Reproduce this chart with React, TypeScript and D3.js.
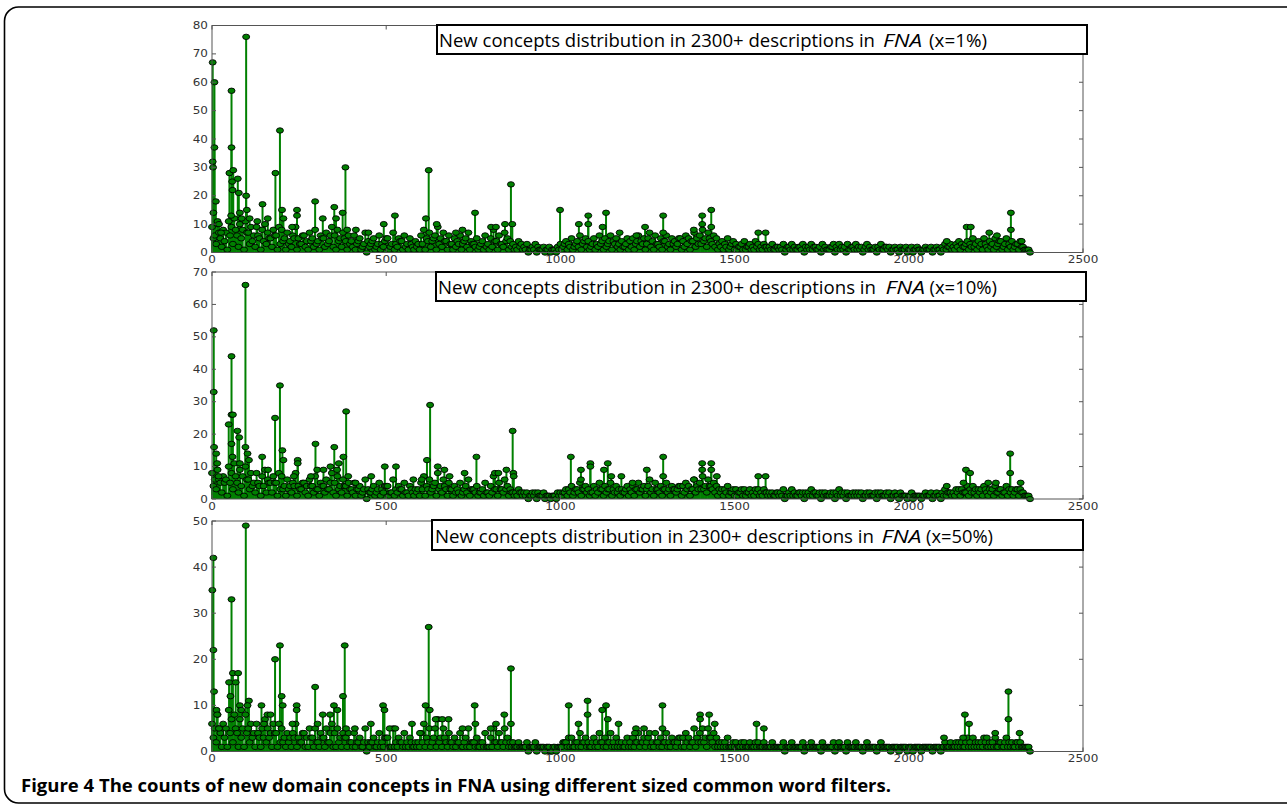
import * as d3 from "d3";

// the "b" arrays are the samples in between (offset 4)
const bgStep = 8;

const bg1 = [
  9, 6, 10, 5, 8, 7, 11, 9, 12, 6, 10, 8, 11, 7, 9, 6, 9, 5, 8, 10, 7, 5, 8, 6, 9,
  8, 5, 7, 4, 6, 9, 5, 3, 6, 4, 7, 5, 8, 4, 6, 5, 7, 4, 9, 6, 8, 5, 7, 4, 6,
  4, 6, 3, 5, 2, 7, 4, 3, 5, 2, 6, 3, 4, 5, 2, 7, 3, 5, 4, 6, 3, 5, 2, 4, 3,
  6, 8, 5, 7, 4, 6, 9, 5, 7, 4, 6, 3, 5, 4, 6, 3, 5, 7, 4, 3, 5, 2, 4, 6, 3,
  5, 8, 4, 6, 3, 7, 5, 4, 3, 2, 4, 3, 2, 3, 1, 2, 3, 2, 1, 2, 1, 2, 1, 1, 2,
  3, 2, 4, 3, 5, 2, 4, 6, 3, 5, 4, 2, 5, 3, 6, 4, 5, 3, 6, 4, 5, 3, 4, 2, 5,
  4, 5, 3, 6, 4, 5, 3, 7, 4, 6, 3, 5, 4, 6, 3, 5, 4, 3, 5, 4, 6, 5, 4, 7, 5,
  6, 8, 5, 7, 4, 6, 5, 3, 4, 3, 5, 2, 4, 3, 2, 3, 4, 2, 3, 2, 4, 3, 2, 3, 2,
  2, 3, 1, 2, 2, 3, 1, 2, 3, 2, 1, 2, 3, 2, 2, 3, 2, 1, 2, 3, 2, 1, 2, 3, 2,
  3, 2, 2, 3, 1, 2, 3, 2, 2, 1, 3, 2, 1, 2, 2, 3, 1, 2, 2, 1, 2, 1, 2, 1, 2,
  1, 2, 1, 2, 1, 1, 2, 1, 2, 1, 2, 1, 2, 3, 2, 3, 2, 3, 4, 3, 2, 4, 3, 5, 3,
  4, 3, 5, 2, 4, 3, 5, 3, 4, 2, 5, 3, 4, 2, 3, 4, 2, 1, 1,
];
const bg1b = [
  5, 3, 7, 2, 4, 1, 6, 3, 8, 2, 5, 1, 7, 3, 4, 2, 6, 1, 4, 3, 5, 2, 6, 1, 3,
  4, 1, 3, 2, 5, 1, 3, 6, 2, 1, 4, 2, 3, 1, 5, 2, 3, 6, 2, 1, 4, 2, 5, 1, 3,
  2, 1, 4, 1, 3, 0, 2, 4, 1, 3, 1, 2, 5, 1, 3, 1, 2, 4, 1, 2, 1, 3, 1, 2, 1,
  3, 1, 4, 2, 5, 1, 3, 2, 4, 1, 3, 1, 2, 3, 1, 4, 2, 1, 3, 2, 1, 3, 1, 2, 1,
  2, 4, 1, 3, 2, 4, 1, 2, 1, 1, 2, 1, 1, 0, 1, 1, 0, 1, 1, 0, 1, 0, 1, 0, 1,
  1, 3, 1, 2, 1, 3, 2, 1, 4, 2, 1, 3, 1, 2, 3, 1, 2, 4, 1, 3, 2, 1, 2, 3, 1,
  2, 1, 4, 2, 3, 1, 5, 2, 1, 3, 2, 1, 4, 2, 1, 3, 2, 5, 1, 2, 3, 1, 4, 2, 3,
  3, 4, 2, 5, 3, 2, 1, 2, 1, 2, 1, 3, 1, 1, 2, 1, 1, 2, 1, 1, 2, 1, 1, 2, 1,
  1, 1, 2, 1, 1, 0, 2, 1, 1, 1, 2, 1, 0, 1, 1, 1, 2, 1, 0, 1, 1, 1, 2, 0, 1,
  1, 1, 0, 1, 2, 1, 1, 1, 0, 2, 1, 1, 1, 0, 1, 1, 2, 1, 0, 1, 1, 0, 1, 1, 0,
  1, 0, 1, 1, 0, 1, 1, 1, 0, 1, 1, 0, 1, 1, 2, 1, 1, 2, 1, 2, 3, 1, 2, 2, 1,
  2, 1, 3, 1, 2, 1, 2, 4, 1, 3, 1, 2, 1, 3, 1, 2, 1, 1, 0,
];

const bg2 = [
  8, 6, 9, 5, 7, 6, 10, 8, 11, 5, 9, 7, 10, 6, 8, 5, 8, 4, 7, 9, 6, 5, 7, 5, 8,
  7, 4, 6, 4, 5, 8, 4, 3, 5, 4, 6, 4, 7, 3, 5, 4, 6, 3, 8, 5, 7, 4, 6, 4, 5,
  3, 5, 3, 4, 2, 6, 3, 2, 4, 2, 5, 3, 4, 4, 2, 6, 3, 4, 3, 5, 2, 4, 2, 3, 3,
  5, 7, 4, 6, 3, 5, 8, 4, 6, 3, 5, 3, 4, 3, 5, 2, 4, 6, 3, 3, 4, 2, 3, 5, 2,
  4, 7, 3, 5, 3, 6, 4, 3, 2, 2, 3, 2, 2, 2, 1, 2, 2, 2, 1, 2, 1, 1, 1, 1, 2,
  2, 2, 3, 3, 4, 2, 3, 5, 3, 4, 3, 2, 4, 3, 5, 3, 4, 3, 5, 3, 4, 3, 3, 2, 4,
  3, 4, 3, 5, 3, 4, 3, 6, 3, 5, 3, 4, 3, 5, 3, 4, 3, 3, 4, 4, 5, 4, 3, 6, 4,
  5, 7, 4, 6, 4, 5, 4, 3, 3, 3, 4, 2, 3, 3, 2, 3, 3, 2, 3, 2, 3, 3, 2, 3, 2,
  2, 2, 1, 2, 2, 3, 1, 2, 3, 2, 1, 2, 2, 2, 2, 3, 2, 1, 2, 2, 2, 1, 2, 2, 2,
  3, 2, 2, 2, 1, 2, 2, 2, 2, 1, 2, 2, 1, 2, 2, 2, 1, 2, 2, 1, 2, 1, 2, 1, 1,
  1, 2, 1, 1, 1, 1, 2, 1, 2, 1, 2, 1, 2, 3, 2, 2, 2, 3, 3, 3, 2, 4, 3, 4, 3,
  3, 3, 4, 2, 3, 3, 4, 2, 3, 2, 4, 3, 3, 2, 3, 3, 2, 1, 1,
];
const bg2b = [
  4, 3, 6, 2, 5, 1, 5, 3, 7, 2, 4, 1, 6, 3, 4, 2, 5, 1, 4, 2, 5, 2, 5, 1, 3,
  3, 1, 3, 2, 4, 1, 3, 5, 2, 1, 4, 2, 3, 1, 4, 2, 3, 5, 2, 1, 3, 2, 4, 1, 3,
  2, 1, 3, 1, 3, 0, 2, 3, 1, 3, 1, 2, 4, 1, 2, 1, 2, 3, 1, 2, 1, 3, 1, 2, 1,
  3, 1, 3, 2, 4, 1, 3, 2, 4, 1, 3, 1, 2, 2, 1, 3, 2, 1, 3, 2, 1, 2, 1, 2, 1,
  2, 3, 1, 3, 2, 3, 1, 2, 1, 1, 2, 1, 1, 0, 1, 1, 0, 1, 1, 0, 1, 0, 1, 0, 1,
  1, 2, 1, 2, 1, 3, 2, 1, 3, 2, 1, 2, 1, 2, 3, 1, 2, 3, 1, 2, 2, 1, 2, 3, 1,
  2, 1, 3, 2, 3, 1, 4, 2, 1, 3, 2, 1, 3, 2, 1, 3, 2, 4, 1, 2, 3, 1, 3, 2, 3,
  3, 3, 2, 4, 3, 2, 1, 2, 1, 2, 1, 2, 1, 1, 2, 1, 1, 2, 1, 1, 2, 1, 1, 2, 1,
  1, 1, 2, 1, 1, 0, 1, 1, 1, 1, 2, 1, 0, 1, 1, 1, 2, 1, 0, 1, 1, 1, 1, 0, 1,
  1, 1, 0, 1, 1, 1, 1, 1, 0, 1, 1, 1, 1, 0, 1, 1, 1, 1, 0, 1, 1, 0, 1, 1, 0,
  1, 0, 1, 1, 0, 1, 1, 1, 0, 1, 1, 0, 1, 1, 2, 1, 1, 2, 1, 2, 2, 1, 2, 2, 1,
  2, 1, 3, 1, 2, 1, 2, 3, 1, 2, 1, 2, 1, 3, 1, 2, 1, 1, 0,
];

const bg3 = [
  6, 5, 8, 4, 6, 5, 9, 7, 8, 4, 7, 5, 8, 5, 6, 4, 6, 3, 5, 7, 5, 4, 6, 4, 6,
  5, 3, 4, 3, 4, 6, 3, 2, 4, 3, 5, 3, 5, 2, 4, 3, 5, 2, 6, 4, 5, 3, 4, 3, 4,
  2, 4, 2, 3, 1, 5, 2, 2, 3, 1, 4, 2, 3, 3, 1, 5, 2, 3, 2, 4, 2, 3, 1, 2, 2,
  4, 6, 3, 5, 2, 5, 7, 3, 5, 2, 4, 2, 3, 2, 4, 1, 3, 5, 2, 2, 3, 1, 2, 4, 1,
  3, 5, 2, 4, 2, 5, 3, 2, 2, 1, 2, 1, 1, 2, 1, 1, 2, 1, 1, 1, 1, 1, 0, 1, 1,
  1, 2, 2, 3, 3, 1, 2, 4, 2, 3, 2, 1, 3, 2, 4, 2, 3, 2, 4, 2, 3, 2, 2, 1, 3,
  2, 3, 2, 4, 2, 3, 2, 4, 2, 4, 2, 3, 2, 4, 2, 3, 2, 2, 3, 3, 4, 3, 2, 5, 3,
  4, 5, 3, 5, 3, 4, 3, 2, 2, 2, 3, 1, 2, 2, 1, 2, 2, 1, 2, 1, 2, 2, 1, 2, 1,
  1, 2, 1, 1, 1, 2, 1, 1, 2, 1, 1, 1, 2, 1, 1, 2, 1, 1, 1, 2, 1, 1, 1, 2, 1,
  2, 1, 1, 2, 1, 1, 2, 1, 1, 1, 2, 1, 1, 1, 1, 2, 1, 1, 1, 1, 1, 1, 1, 1, 1,
  1, 1, 1, 1, 1, 1, 1, 1, 1, 1, 1, 1, 1, 2, 1, 2, 1, 2, 2, 2, 1, 3, 2, 3, 2,
  2, 2, 3, 1, 2, 2, 3, 1, 2, 1, 3, 2, 2, 1, 2, 2, 1, 1, 1,
];
const bg3b = [
  3, 2, 5, 1, 3, 1, 4, 2, 5, 1, 3, 1, 4, 2, 3, 1, 4, 1, 3, 2, 3, 1, 4, 1, 2,
  2, 1, 2, 1, 3, 1, 2, 4, 1, 1, 3, 1, 2, 1, 3, 1, 2, 4, 1, 1, 2, 1, 3, 1, 2,
  1, 1, 2, 1, 2, 0, 1, 2, 1, 2, 1, 1, 3, 1, 1, 1, 1, 2, 1, 1, 1, 2, 1, 1, 1,
  2, 1, 2, 1, 3, 1, 2, 1, 3, 1, 2, 1, 1, 2, 1, 2, 1, 1, 2, 1, 1, 2, 1, 1, 1,
  1, 2, 1, 2, 1, 2, 1, 1, 1, 1, 1, 1, 1, 0, 1, 1, 0, 1, 1, 0, 1, 0, 1, 0, 1,
  1, 2, 1, 1, 1, 2, 1, 1, 2, 1, 1, 2, 1, 1, 2, 1, 1, 2, 1, 1, 1, 1, 1, 2, 1,
  1, 1, 2, 1, 2, 1, 3, 1, 1, 2, 1, 1, 2, 1, 1, 2, 1, 3, 1, 1, 2, 1, 2, 1, 2,
  2, 2, 1, 3, 2, 1, 1, 1, 1, 1, 1, 1, 1, 1, 1, 1, 1, 1, 1, 1, 1, 1, 1, 1, 1,
  1, 1, 1, 1, 1, 0, 1, 1, 1, 1, 1, 1, 0, 1, 1, 1, 1, 1, 0, 1, 1, 1, 1, 0, 1,
  1, 1, 0, 1, 1, 1, 1, 1, 0, 1, 1, 1, 1, 0, 1, 1, 1, 1, 0, 1, 1, 0, 1, 1, 0,
  1, 0, 1, 1, 0, 1, 1, 1, 0, 1, 1, 0, 1, 1, 1, 1, 1, 1, 1, 1, 2, 1, 1, 1, 1,
  1, 1, 2, 1, 1, 1, 1, 2, 1, 2, 1, 1, 1, 2, 1, 1, 1, 1, 0,
];

// [description index, count] for the taller stems
const peaks1 = [
  [2, 67], [2, 32], [3, 30], [7, 60], [7, 37], [11, 18], [4, 14], [16, 11], [20, 10], [26, 7],
  [50, 28], [56, 57], [56, 37], [58, 25], [59, 22], [55, 13], [61, 29], [74, 26], [77, 21], [80, 14], [85, 12],
  [98, 76], [98, 20], [100, 15], [108, 12],
  [145, 17], [160, 12], [130, 11], [182, 28], [195, 43], [201, 15], [205, 12],
  [230, 9], [244, 15], [244, 13], [296, 18], [318, 12], [351, 16], [356, 12], [375, 14], [383, 30], [388, 8],
  [413, 8], [449, 7], [493, 10], [525, 13],
  [614, 12], [622, 29], [645, 10], [700, 7], [719, 8], [755, 14], [801, 9], [815, 9], [841, 10], [858, 24], [862, 10],
  [999, 15], [1053, 10], [1080, 13], [1080, 10], [1121, 9], [1131, 14], [1170, 7], [1218, 6],
  [1243, 9], [1295, 13], [1295, 7], [1383, 8], [1407, 13], [1407, 10], [1433, 15], [1433, 9], [1568, 7], [1589, 7],
  [2109, 4], [2166, 9], [2178, 9], [2231, 7], [2253, 6], [2293, 14], [2293, 8], [2324, 4],
];

const peaks2 = [
  [5, 52], [5, 33], [6, 16], [12, 14], [15, 11], [19, 7],
  [48, 23], [56, 44], [56, 26], [60, 26], [56, 17], [59, 13], [73, 21], [78, 19], [80, 11],
  [96, 66], [96, 16], [102, 14], [106, 12],
  [144, 13], [161, 9], [181, 25], [195, 35], [202, 15], [205, 12],
  [235, 7], [246, 12], [246, 11], [284, 7], [297, 17], [302, 9], [320, 9],
  [340, 10], [351, 16], [359, 9], [364, 11], [377, 13], [385, 27], [391, 7],
  [412, 5], [457, 7], [496, 10], [528, 10], [578, 6], [602, 6],
  [617, 12], [626, 29], [648, 10], [667, 9], [682, 7], [725, 8], [759, 13], [812, 8], [822, 8], [845, 9], [863, 21], [865, 8], [866, 7],
  [1030, 13], [1059, 9], [1059, 6], [1086, 11], [1086, 10], [1125, 9], [1136, 11], [1146, 7], [1175, 7], [1207, 5],
  [1248, 9], [1295, 13], [1295, 7], [1383, 6], [1407, 11], [1407, 9], [1433, 11], [1433, 9], [1449, 7], [1568, 7], [1589, 7],
  [2109, 4], [2157, 5], [2164, 9], [2176, 8], [2228, 5], [2250, 5], [2291, 14], [2291, 8], [2321, 5],
];

const peaks3 = [
  [4, 42], [1, 35], [4, 22], [6, 13], [13, 9], [15, 8], [20, 5],
  [49, 15], [56, 33], [53, 12], [60, 17], [68, 15], [75, 17], [80, 10], [84, 9],
  [97, 49], [106, 11], [102, 10],
  [142, 10], [149, 6], [159, 8], [168, 8], [181, 20], [195, 23], [200, 12], [203, 10],
  [231, 6], [243, 10], [243, 9], [296, 14], [303, 6], [318, 8], [339, 8], [350, 10], [360, 9], [376, 12], [381, 23], [385, 5], [410, 5],
  [456, 6], [491, 10], [495, 9], [510, 5], [526, 5],
  [574, 6], [597, 4], [613, 10], [622, 27], [625, 9], [642, 7], [661, 7], [679, 7], [719, 5], [754, 10], [756, 6],
  [800, 5], [815, 6], [839, 8], [858, 18], [858, 6],
  [1024, 10], [1052, 6], [1078, 11], [1078, 8], [1120, 9], [1131, 10], [1136, 7], [1167, 6], [1217, 5],
  [1214, 4], [1240, 5], [1293, 10], [1293, 5], [1401, 8], [1401, 7], [1427, 8], [1443, 6], [1563, 6], [1584, 5],
  [2101, 3], [2156, 3], [2161, 8], [2173, 6], [2224, 3], [2248, 4], [2286, 13], [2286, 7], [2318, 4],
];

const xTicks = [0, 500, 1000, 1500, 2000, 2500];
const yMaxes = [80, 70, 50];
const filterSizes = ["x=1%", "x=10%", "x=50%"];
const backgrounds = [bg1, bg2, bg3];
const backgroundsB = [bg1b, bg2b, bg3b];
const peakSets = [peaks1, peaks2, peaks3];

// panel frames in page pixels; title pieces as [start, end] spans
const frames = [
  { top: 25.5, bottom: 252.5, box: [437, 25, 650, 29], base: 46.5, pre: [439, 875], fna: [883, 922], suf: [929, 987] },
  { top: 272, bottom: 499, box: [436, 272, 650, 29], base: 294, pre: [438, 876], fna: [885.5, 925], suf: [929.5, 997] },
  { top: 521, bottom: 751.5, box: [432, 520, 651, 30], base: 542.5, pre: [435, 874], fna: [881.5, 921.5], suf: [926, 993] },
];
const left = 212;
const right = 1083;

const green = "#008000";
const axisColor = "#555";
const tickFont = "DejaVu Sans, sans-serif";
const titleFont = "Open Sans, sans-serif";

function Panel({ i }: { i: number }) {
  const f = frames[i];
  const x = d3.scaleLinear().domain([0, 2500]).range([left, right]);
  const y = d3.scaleLinear().domain([0, yMaxes[i]]).range([f.bottom, f.top]);
  const yTicks = d3.range(0, yMaxes[i] + 1, 10);

  const pts: [number, number][] = [];
  backgrounds[i].forEach((v, k) => pts.push([k * bgStep, v]));
  backgroundsB[i].forEach((v, k) => pts.push([k * bgStep + bgStep / 2, v]));
  pts.sort((a, b) => a[0] - b[0]);
  peakSets[i].forEach((p) => pts.push([p[0], p[1]]));

  const piece = (span: number[], str: string, italic = false) => (
    <text
      x={span[0]}
      y={f.base}
      textLength={span[1] - span[0]}
      lengthAdjust="spacingAndGlyphs"
      fontFamily={titleFont}
      fontSize={17.5}
      fontStyle={italic ? "italic" : "normal"}
      fill="#000"
    >
      {str}
    </text>
  );

  return (
    <g>
      <g stroke={green} strokeWidth={2}>
        {pts.map((d, k) => (
          <line key={k} x1={x(d[0])} x2={x(d[0])} y1={y(0)} y2={y(d[1])} />
        ))}
      </g>
      <g fill={green} stroke="#000" strokeWidth={0.9}>
        {pts.map((d, k) => (
          <ellipse key={k} cx={x(d[0])} cy={y(d[1])} rx={3.5} ry={2.7} />
        ))}
      </g>
      <rect x={left} y={f.top} width={right - left} height={f.bottom - f.top} fill="none" stroke={axisColor} strokeWidth={1} />
      <g stroke={axisColor} strokeWidth={1}>
        {yTicks.map((t) => (
          <g key={t}>
            <line x1={left} x2={left + 4} y1={y(t)} y2={y(t)} />
            <line x1={right - 4} x2={right} y1={y(t)} y2={y(t)} />
          </g>
        ))}
        {xTicks.map((t) => (
          <g key={t}>
            <line x1={x(t)} x2={x(t)} y1={f.top} y2={f.top + 4} />
            <line x1={x(t)} x2={x(t)} y1={f.bottom - 4} y2={f.bottom} />
          </g>
        ))}
      </g>
      <g fill="#333" fontFamily={tickFont} fontSize={10}>
        {yTicks.map((t) => (
          <text key={t} transform={`translate(${left - 4},${y(t) + 3.6}) scale(1.2,1)`} textAnchor="end">
            {t}
          </text>
        ))}
        {xTicks.map((t) => (
          <text key={t} transform={`translate(${x(t)},${f.bottom + 10.5}) scale(1.2,1)`} textAnchor="middle">
            {t}
          </text>
        ))}
      </g>
      <rect x={f.box[0]} y={f.box[1]} width={f.box[2]} height={f.box[3]} fill="#fff" stroke="#000" strokeWidth={2} />
      {piece(f.pre, "New concepts distribution in 2300+ descriptions in")}
      {piece(f.fna, "FNA", true)}
      {piece(f.suf, `(${filterSizes[i]})`)}
    </g>
  );
}

export default function App() {
  return (
    <svg
      width={1287}
      height={805}
      style={{ position: "absolute", left: 0, top: 0, background: "#fff" }}
    >
      <rect x={4.5} y={7} width={1300} height={796} rx={14} fill="#fff" stroke="#000" strokeWidth={1.6} />
      {[0, 1, 2].map((i) => (
        <Panel key={i} i={i} />
      ))}
      <text
        x={21}
        y={791.5}
        textLength={870}
        lengthAdjust="spacingAndGlyphs"
        fontFamily={titleFont}
        fontSize={17.5}
        fontWeight="bold"
        fill="#000"
      >
        Figure 4 The counts of new domain concepts in FNA using different sized common word filters.
      </text>
    </svg>
  );
}
